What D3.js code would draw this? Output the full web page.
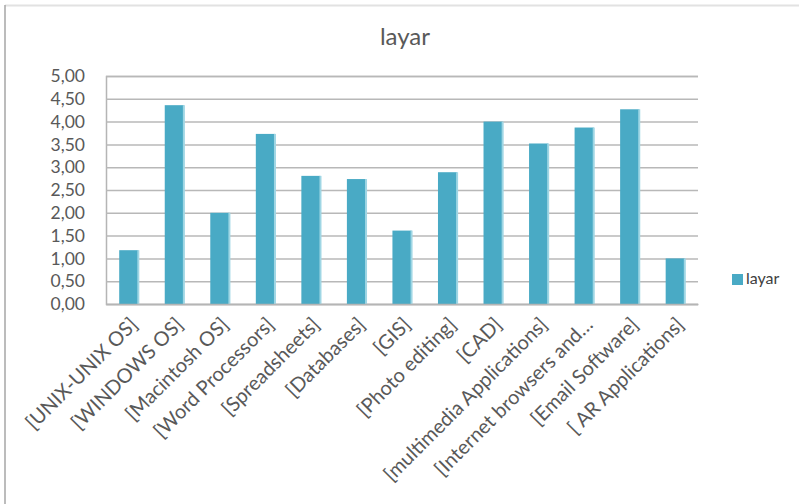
<!DOCTYPE html>
<html>
<head>
<meta charset="utf-8">
<script src="https://cdn.jsdelivr.net/npm/d3@7"></script>
<style>
  html, body { margin: 0; padding: 0; background: #fff; }
  svg { display: block; font-family: Lato, "Noto Sans", sans-serif; }
</style>
</head>
<body>
<svg id="chart" width="799" height="504"></svg>
<script>
// Survey categories and their mean "layar" scores
const categories = [
  "[UNIX-UNIX OS]", "[WINDOWS OS]", "[Macintosh OS]", "[Word Processors]",
  "[Spreadsheets]", "[Databases]", "[GIS]", "[Photo editing]", "[CAD]",
  "[multimedia Applications]", "[Internet browsers and…", "[Email Software]",
  "[ AR Applications]"
];
const layarValues = [1.18, 4.36, 2.00, 3.73, 2.81, 2.74, 1.61, 2.89, 4.00, 3.52, 3.87, 4.27, 1.00];
const yTicks = [0, 0.5, 1, 1.5, 2, 2.5, 3, 3.5, 4, 4.5, 5];
const seriesName = "layar";

const svg = d3.select("#chart");
const W = 799, H = 504;
const plot = { left: 106, right: 698, top: 76, bottom: 304 };
const barColor = "#49aac5";
const barEdge = "#9fd6e4";
const textColor = "#595959";

// chart frame edges
svg.append("line").attr("x1", 5).attr("x2", W).attr("y1", 5.5).attr("y2", 5.5)
  .attr("stroke", "#e2e2e2").attr("stroke-width", 2);
svg.append("line").attr("x1", 5).attr("x2", 5).attr("y1", 5).attr("y2", H)
  .attr("stroke", "#a6a6a6").attr("stroke-width", 1.5);

const x = d3.scaleBand().domain(categories)
  .range([plot.left, plot.right]).paddingInner(0.58).paddingOuter(0.29);
const y = d3.scaleLinear().domain([0, 5]).range([plot.bottom, plot.top]);
const fmt = v => d3.format(".2f")(v).replace(".", ",");

// horizontal gridlines + value labels
const yAxis = d3.axisLeft(y).tickValues(yTicks).tickSize(-(plot.right - plot.left))
  .tickFormat(fmt).tickPadding(21);
const gy = svg.append("g").attr("transform", `translate(${plot.left},0)`).call(yAxis);
gy.select(".domain").attr("stroke", "#b5b5b5").attr("stroke-width", 1.5);
gy.selectAll(".tick line").attr("stroke", "#b8b8b8").attr("stroke-width", 1.5);
gy.selectAll(".tick text").attr("fill", textColor)
  .style("font-size", "17.5px").attr("font-family", "Lato, sans-serif");

// bars, each with a soft highlight along its right side
const bars = svg.append("g").selectAll("g").data(categories).join("g");
bars.append("rect")
  .attr("x", d => x(d))
  .attr("width", x.bandwidth())
  .attr("y", (d, i) => y(layarValues[i]))
  .attr("height", (d, i) => y(0) - y(layarValues[i]))
  .attr("fill", barColor);
bars.append("rect")
  .attr("x", d => x(d) + x.bandwidth() - 1)
  .attr("width", 2)
  .attr("y", (d, i) => y(layarValues[i]))
  .attr("height", (d, i) => y(0) - y(layarValues[i]))
  .attr("fill", barEdge);

// category axis
const xAxis = d3.axisBottom(x).tickSize(0).tickPadding(0);
const gx = svg.append("g").attr("transform", `translate(0,${plot.bottom})`).call(xAxis);
gx.select(".domain").attr("stroke", "#b5b5b5").attr("stroke-width", 1.5);
gx.selectAll(".tick text")
  .attr("fill", textColor)
  .style("font-size", "20px")
  .attr("font-family", "Lato, sans-serif")
  .attr("text-anchor", "end")
  .attr("dy", "0.35em")
  .attr("transform", "translate(5,17) rotate(-45)");

// title
svg.append("text").attr("x", 405).attr("y", 45).attr("text-anchor", "middle")
  .attr("fill", textColor).style("font-size", "24px").text(seriesName);

// legend
const lg = svg.append("g").attr("transform", "translate(732,274)");
lg.append("rect").attr("width", 11).attr("height", 11).attr("fill", barColor);
lg.append("text").attr("x", 14).attr("y", 10).attr("fill", "#404040")
  .style("font-size", "16px").text(seriesName);
</script>
</body>
</html>
